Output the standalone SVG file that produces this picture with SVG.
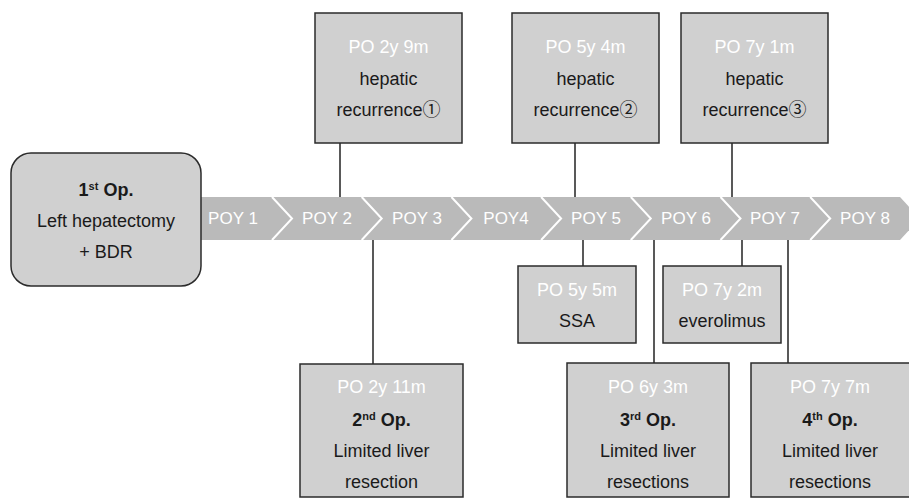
<svg xmlns="http://www.w3.org/2000/svg" width="909" height="498" viewBox="0 0 909 498">
<style>
.box{fill:#d0d0d0;stroke:#2b2b2b;stroke-width:1.5}
.t{font-family:"Liberation Sans","Noto Sans CJK JP",Arial,sans-serif;font-size:18px;fill:#1a1a1a;text-anchor:middle}
.w{fill:#ffffff}
.b{font-weight:bold}
.poy{font-family:"Liberation Sans",Arial,sans-serif;font-size:17px;fill:#ffffff;text-anchor:middle}
.chev{fill:none;stroke:#ffffff;stroke-width:2}
.conn{stroke:#222222;stroke-width:1.5;fill:none}
</style>
<rect width="909" height="498" fill="#ffffff"/>

<g id="timeline">
<polygon points="190,197 900,197 920,218.5 900,240 190,240" fill="#bababa"/>
<polyline class="chev" points="272,197 292,218.5 272,240"/>
<polyline class="chev" points="361.7,197 381.7,218.5 361.7,240"/>
<polyline class="chev" points="451.4,197 471.4,218.5 451.4,240"/>
<polyline class="chev" points="541.1,197 561.1,218.5 541.1,240"/>
<polyline class="chev" points="630.8,197 650.8,218.5 630.8,240"/>
<polyline class="chev" points="720.5,197 740.5,218.5 720.5,240"/>
<polyline class="chev" points="810.2,197 830.2,218.5 810.2,240"/>
<text class="poy" x="233" y="224">POY 1</text>
<text class="poy" x="327" y="224">POY 2</text>
<text class="poy" x="417" y="224">POY 3</text>
<text class="poy" x="506" y="224">POY4</text>
<text class="poy" x="596" y="224">POY 5</text>
<text class="poy" x="686" y="224">POY 6</text>
<text class="poy" x="775" y="224">POY 7</text>
<text class="poy" x="865" y="224">POY 8</text>
</g>

<g id="connectors">
<line class="conn" x1="340" y1="143" x2="340" y2="197"/>
<line class="conn" x1="575" y1="143" x2="575" y2="197"/>
<line class="conn" x1="732" y1="143" x2="732" y2="197"/>
<line class="conn" x1="373" y1="240" x2="373" y2="364"/>
<line class="conn" x1="583" y1="240" x2="583" y2="266"/>
<line class="conn" x1="654" y1="240" x2="654" y2="363"/>
<line class="conn" x1="742" y1="240" x2="742" y2="266"/>
<line class="conn" x1="788" y1="240" x2="788" y2="363"/>
</g>

<g id="op1">
<rect class="box" x="11" y="153" width="190" height="133" rx="20" ry="20"/>
<text class="t b" x="106" y="196">1<tspan font-size="11" dy="-6">st</tspan><tspan dy="6"> Op.</tspan></text>
<text class="t" x="106" y="227">Left hepatectomy</text>
<text class="t" x="106" y="258">+ BDR</text>
</g>

<g id="rec1">
<rect class="box" x="315" y="13" width="147" height="130"/>
<text class="t w" x="388.5" y="53">PO 2y 9m</text>
<text class="t" x="388.5" y="85">hepatic</text>
<text class="t" x="388.5" y="116">recurrence①</text>
</g>

<g id="rec2">
<rect class="box" x="512" y="13" width="147" height="130"/>
<text class="t w" x="585.5" y="53">PO 5y 4m</text>
<text class="t" x="585.5" y="85">hepatic</text>
<text class="t" x="585.5" y="116">recurrence②</text>
</g>

<g id="rec3">
<rect class="box" x="681" y="13" width="147" height="130"/>
<text class="t w" x="754.5" y="53">PO 7y 1m</text>
<text class="t" x="754.5" y="85">hepatic</text>
<text class="t" x="754.5" y="116">recurrence③</text>
</g>

<g id="ssa">
<rect class="box" x="518" y="266" width="118" height="77"/>
<text class="t w" x="577" y="296">PO 5y 5m</text>
<text class="t" x="577" y="327">SSA</text>
</g>

<g id="everolimus">
<rect class="box" x="663" y="266" width="118" height="77"/>
<text class="t w" x="722" y="296">PO 7y 2m</text>
<text class="t" x="722" y="327">everolimus</text>
</g>

<g id="op2">
<rect class="box" x="300" y="364" width="163" height="133"/>
<text class="t w" x="381.5" y="393">PO 2y 11m</text>
<text class="t b" x="381.5" y="426">2<tspan font-size="11" dy="-6">nd</tspan><tspan dy="6"> Op.</tspan></text>
<text class="t" x="381.5" y="457">Limited liver</text>
<text class="t" x="381.5" y="488">resection</text>
</g>

<g id="op3">
<rect class="box" x="567" y="363" width="162" height="134"/>
<text class="t w" x="648" y="393">PO 6y 3m</text>
<text class="t b" x="648" y="426">3<tspan font-size="11" dy="-6">rd</tspan><tspan dy="6"> Op.</tspan></text>
<text class="t" x="648" y="457">Limited liver</text>
<text class="t" x="648" y="488">resections</text>
</g>

<g id="op4">
<rect class="box" x="751" y="363" width="160" height="134"/>
<text class="t w" x="830" y="393">PO 7y 7m</text>
<text class="t b" x="830" y="426">4<tspan font-size="11" dy="-6">th</tspan><tspan dy="6"> Op.</tspan></text>
<text class="t" x="830" y="457">Limited liver</text>
<text class="t" x="830" y="488">resections</text>
</g>
</svg>
